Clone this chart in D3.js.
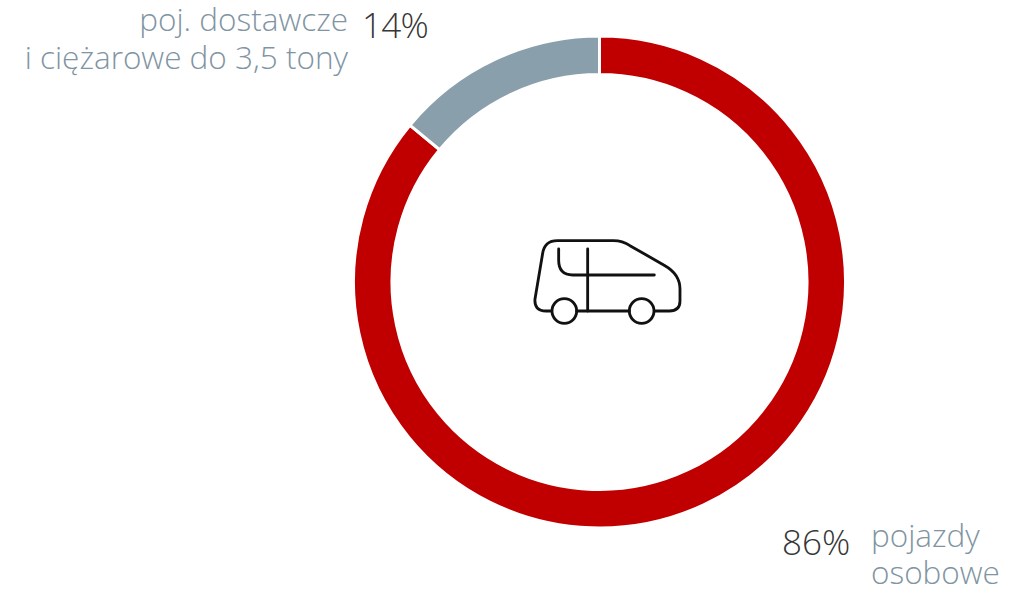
<!DOCTYPE html>
<html>
<head>
<meta charset="utf-8">
<script src="https://cdn.jsdelivr.net/npm/d3@7"></script>
<style>
    html, body { margin: 0; padding: 0; background: #fff; }
    svg { display: block; }
    text { font-family: "Open Sans", "Noto Sans", sans-serif; font-weight: 300; }
    .name { font-size: 31.5px; fill: #7f95a3; }
    .pct { font-size: 35px; fill: #363636; }
</style>
</head>
<body>
<svg id="chart" width="1025" height="590"></svg>
<script>
//chart data
const categories = ['pojazdy osobowe', 'poj. dostawcze i ciężarowe do 3,5 tony'];
const shares = [86, 14];
const colors = ['#c00000', '#8a9fac'];

const svg = d3.select('#chart');
const ring = svg.append('g').attr('transform', 'translate(599.5,282)');

//start the first slice at 12 o'clock, going clockwise
const pie = d3.pie().sort(null).value(d => d);
//radii a bit over the visible ring, the white stroke eats into them
const arc = d3.arc().innerRadius(207.5).outerRadius(246);

ring.selectAll('path')
    .data(pie(shares))
    .enter().append('path')
    .attr('d', arc)
    .attr('fill', (d, i) => colors[i])
    .attr('stroke', '#fff')
    .attr('stroke-width', 3);

//labels, one text per line
function label(cls, anchor, x, y, str) {
    return svg.append('text')
        .attr('class', cls)
        .attr('text-anchor', anchor)
        .attr('x', x)
        .attr('y', y)
        .text(str);
}

label('name', 'end', 348, 31, 'poj. dostawcze');
label('name', 'end', 348, 69, 'i ciężarowe do 3,5 tony');
label('pct', 'start', 362, 38, shares[1] + '%').style('letter-spacing', '-0.7px');
label('pct', 'start', 782, 555, shares[0] + '%');
label('name', 'start', 871, 547, 'pojazdy');
label('name', 'start', 871, 584, 'osobowe');

//car icon in the middle of the ring
const car = svg.append('g')
    .attr('transform', 'translate(520,225) scale(0.3333)')
    .attr('fill', 'none')
    .attr('stroke', '#111')
    .attr('stroke-width', 8.5)
    .attr('stroke-linecap', 'round')
    .attr('stroke-linejoin', 'round');

car.append('path')
    .attr('d', 'M95,258 H78 Q42,258 45,222 L68,85 Q74,47 112,47 H280 Q308,47 330,62 L435,122 Q480,148 480,192 V228 Q480,258 448,258 H403');
car.append('path').attr('d', 'M170,258 H328');
car.append('path').attr('d', 'M203,72 V258');
car.append('path').attr('d', 'M116,72 V106 Q116,150 158,150 H403');
car.append('circle').attr('cx', 133).attr('cy', 258).attr('r', 37);
car.append('circle').attr('cx', 365).attr('cy', 258).attr('r', 37);
</script>
</body>
</html>
